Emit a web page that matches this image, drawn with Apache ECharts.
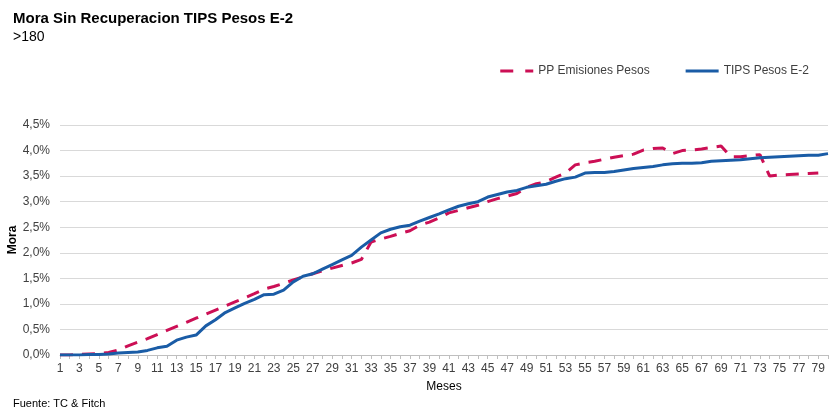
<!DOCTYPE html>
<html>
<head>
<meta charset="utf-8">
<script src="https://cdn.jsdelivr.net/npm/echarts@6/dist/echarts.min.js"></script>
<style>
    html, body { margin: 0; padding: 0; background: #fff; }
    #chart { width: 830px; height: 410px; }
</style>
</head>
<body>
<div id="chart"></div>
<script>
// meses 1..80
const meses = Array.from({ length: 80 }, (_, i) => String(i + 1));

// PP Emisiones Pesos (%)
const ppEmisiones = [
    0.00, 0.00, 0.01, 0.02, 0.03, 0.05, 0.10, 0.18, 0.25, 0.32,
    0.40, 0.48, 0.56, 0.64, 0.72, 0.80, 0.88, 0.96, 1.04, 1.12,
    1.20, 1.29, 1.34, 1.40, 1.47, 1.53, 1.59, 1.65, 1.70, 1.75,
    1.80, 1.87, 2.21, 2.27, 2.32, 2.38, 2.43, 2.54, 2.60, 2.68,
    2.78, 2.83, 2.88, 2.93, 3.00, 3.06, 3.11, 3.16, 3.28, 3.35,
    3.39, 3.48, 3.56, 3.72, 3.76, 3.79, 3.83, 3.87, 3.90, 3.93,
    4.01, 4.04, 4.05, 3.94, 4.00, 4.01, 4.03, 4.06, 4.09, 3.88,
    3.88, 3.90, 3.92, 3.50, 3.52, 3.53, 3.54, 3.55, 3.56, null
];

// TIPS Pesos E-2 (%)
const tipsPesos = [
    0.00, 0.00, 0.00, 0.01, 0.01, 0.02, 0.04, 0.05, 0.06, 0.09,
    0.14, 0.17, 0.29, 0.35, 0.39, 0.57, 0.69, 0.83, 0.92, 1.01,
    1.09, 1.18, 1.19, 1.27, 1.43, 1.54, 1.59, 1.68, 1.77, 1.86,
    1.95, 2.11, 2.25, 2.39, 2.46, 2.51, 2.54, 2.62, 2.69, 2.76,
    2.84, 2.91, 2.96, 3.00, 3.09, 3.14, 3.19, 3.22, 3.28, 3.31,
    3.34, 3.40, 3.45, 3.48, 3.56, 3.57, 3.57, 3.59, 3.62, 3.65,
    3.67, 3.69, 3.72, 3.74, 3.75, 3.75, 3.76, 3.79, 3.80, 3.81,
    3.82, 3.84, 3.86, 3.87, 3.88, 3.89, 3.90, 3.91, 3.91, 3.94
];

const RED = '#CC0F55';
const BLUE = '#1A5CA6';

const chart = echarts.init(document.getElementById('chart'));

const option = {
    backgroundColor: '#fff',
    animation: false,
    textStyle: { fontFamily: 'Liberation Sans, Arial, sans-serif' },
    title: [
        {
            text: 'Mora Sin Recuperacion TIPS Pesos E-2',
            subtext: '>180',
            left: 8,
            top: 6,
            itemGap: 4,
            textStyle: { fontSize: 15, fontWeight: 'bold', color: '#000' },
            subtextStyle: { fontSize: 14, color: '#000' }
        },
        {
            text: 'Fuente: TC & Fitch',
            left: 13,
            top: 398,
            padding: 0,
            textStyle: { fontSize: 11, fontWeight: 'normal', color: '#000' }
        }
    ],
    legend: {
        orient: 'horizontal',
        right: 16,
        top: 60,
        itemWidth: 33,
        itemHeight: 3,
        itemGap: 36,
        textStyle: { fontSize: 12, color: '#404040' },
        data: [
            {
                name: 'PP Emisiones Pesos',
                icon: 'path://M0,0H13V3H0Z M25,0H33V3H25Z',
                itemStyle: { color: RED }
            },
            {
                name: 'TIPS Pesos E-2',
                icon: 'path://M0,0H33V3H0Z',
                itemStyle: { color: BLUE }
            }
        ]
    },
    grid: {
        left: 60, right: 2, top: 125, bottom: 55,
        containLabel: false,
        outerBoundsMode: 'none'
    },
    xAxis: {
        type: 'category',
        data: meses,
        boundaryGap: false,
        name: 'Meses',
        nameLocation: 'middle',
        nameGap: 26,
        nameTextStyle: { fontSize: 12, color: '#000' },
        axisLine: { lineStyle: { color: '#bfbfbf' } },
        axisTick: { show: true, interval: 0, length: 4, lineStyle: { color: '#bfbfbf' } },
        axisLabel: { interval: 1, fontSize: 12, color: '#404040', margin: 8 }
    },
    yAxis: {
        type: 'value',
        min: 0,
        max: 4.5,
        interval: 0.5,
        name: 'Mora',
        nameLocation: 'middle',
        nameGap: 41,
        nameMoveOverlap: false,
        nameTextStyle: { fontSize: 12, fontWeight: 'bold', color: '#000' },
        axisLine: { show: false },
        axisTick: { show: false },
        splitLine: { lineStyle: { color: '#d9d9d9', width: 1 } },
        axisLabel: {
            fontSize: 12,
            color: '#404040',
            margin: 10,
            formatter: v => v.toFixed(1).replace('.', ',') + '%'
        }
    },
    series: [
        {
            name: 'PP Emisiones Pesos',
            type: 'line',
            data: ppEmisiones,
            symbol: 'none',
            itemStyle: { color: RED },
            lineStyle: { color: RED, width: 3, type: [13, 9] },
            z: 2
        },
        {
            name: 'TIPS Pesos E-2',
            type: 'line',
            data: tipsPesos,
            symbol: 'none',
            itemStyle: { color: BLUE },
            lineStyle: { color: BLUE, width: 3 },
            z: 3
        }
    ]
};

chart.setOption(option);
</script>
</body>
</html>
